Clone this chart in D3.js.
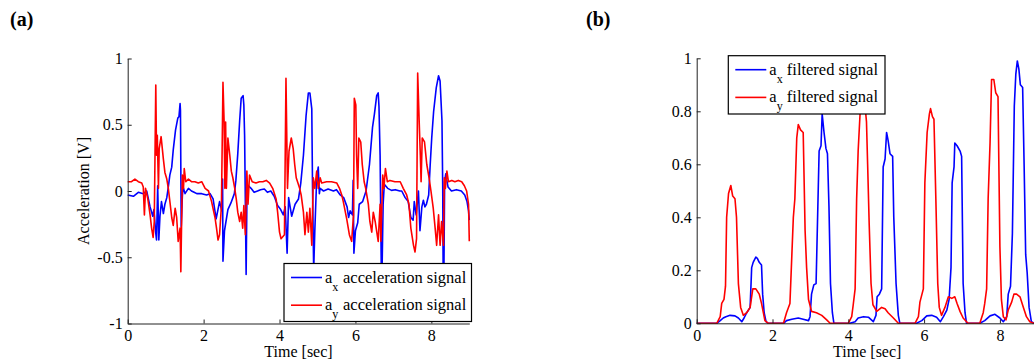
<!DOCTYPE html>
<html>
<head>
<meta charset="utf-8">
<script src="https://cdn.jsdelivr.net/npm/d3@7"></script>
<style>
  body { margin: 0; background: #fff; }
  svg { display: block; font-family: 'Liberation Serif', 'Times New Roman', serif; }
  svg text { font-family: 'Liberation Serif', 'Times New Roman', serif !important; }
</style>
</head>
<body>
<svg id="chart" width="1034" height="362"></svg>
<script>
// (a) raw acceleration signals, [time sec, volts]
const axRaw = [
  [0,-0.03],[0.15,-0.04],[0.28,-0.01],[0.41,-0.02],[0.5,0],[0.59,-0.12],[0.66,-0.19],[0.69,-0.14],
  [0.74,-0.32],[0.76,-0.37],[0.79,0.04],[0.82,-0.37],[0.85,-0.19],[0.89,-0.08],[0.94,-0.17],[0.98,-0.1],
  [1.03,-0.05],[1.07,0.03],[1.11,0.12],[1.16,0.18],[1.2,0.31],[1.26,0.46],[1.32,0.55],[1.35,0.56],
  [1.38,0.66],[1.39,0.61],[1.41,-0.27],[1.44,-0.04],[1.46,0.03],[1.51,-0.02],[1.6,0.02],[1.68,0],
  [1.75,-0.01],[1.82,-0.02],[1.95,-0.02],[2.08,-0.03],[2.17,-0.02],[2.25,-0.06],[2.33,-0.21],[2.42,-0.08],
  [2.48,-0.15],[2.5,0.09],[2.51,-0.53],[2.55,-0.3],[2.64,-0.14],[2.72,-0.09],[2.81,-0.02],[2.85,0.08],
  [2.9,0.28],[2.95,0.53],[2.99,0.7],[3.04,0.72],[3.06,0.65],[3.08,0.42],[3.1,-0.09],[3.12,-0.63],
  [3.14,-0.08],[3.18,0.04],[3.25,0.02],[3.33,-0.01],[3.42,0],[3.5,0.01],[3.6,0.015],[3.68,-0.01],
  [3.77,0],[3.86,-0.04],[3.95,-0.11],[4.03,-0.14],[4.1,-0.18],[4.15,-0.12],[4.2,-0.47],[4.24,-0.05],
  [4.32,-0.19],[4.41,-0.1],[4.5,-0.06],[4.56,0.06],[4.63,0.27],[4.7,0.57],[4.76,0.74],[4.8,0.74],
  [4.85,0.62],[4.87,0.02],[4.9,-0.6],[4.93,-0.3],[4.98,0.1],[5.02,0.18],[5.05,-0.02],[5.07,0.02],
  [5.16,0],[5.28,0.015],[5.42,0],[5.5,0.01],[5.6,-0.03],[5.69,-0.05],[5.78,-0.12],[5.82,-0.2],
  [5.86,-0.15],[5.92,-0.18],[5.94,0.08],[5.96,-0.47],[6.0,-0.3],[6.06,-0.24],[6.1,-0.1],[6.19,-0.08],
  [6.28,0],[6.37,0.2],[6.45,0.48],[6.5,0.58],[6.56,0.72],[6.6,0.74],[6.62,0.64],[6.65,0.27],
  [6.68,-0.55],[6.7,-0.62],[6.73,-0.1],[6.76,0.05],[6.85,0.02],[6.95,0.005],[7.05,0.01],[7.17,0],
  [7.22,0],[7.31,-0.05],[7.39,-0.08],[7.46,-0.2],[7.52,-0.22],[7.55,-0.08],[7.6,-0.18],[7.66,0],
  [7.7,-0.3],[7.75,-0.12],[7.79,-0.07],[7.83,-0.12],[7.87,-0.1],[7.93,-0.03],[7.97,0.2],[8.01,0.4],
  [8.06,0.6],[8.13,0.78],[8.19,0.87],[8.23,0.83],[8.28,0.53],[8.3,0.02],[8.31,-0.55],[8.33,-0.65],
  [8.35,0.07],[8.38,0.13],[8.44,0.03],[8.53,0],[8.66,0.01],[8.79,0],[8.88,-0.03],[8.94,-0.08],
  [8.98,-0.15],[9.0,-0.22]
];
const ayRaw = [
  [0,0.07],[0.1,0.07],[0.19,0.09],[0.28,0.07],[0.37,0.06],[0.41,0.03],[0.44,-0.18],[0.47,0.02],
  [0.53,-0.06],[0.59,-0.18],[0.63,-0.28],[0.67,-0.35],[0.7,-0.23],[0.74,0.8],[0.76,0.27],[0.78,0.42],
  [0.81,0.02],[0.83,0.32],[0.88,0.41],[0.94,0.24],[0.98,0.14],[1.03,0.09],[1.07,0.02],[1.12,-0.1],
  [1.16,-0.2],[1.2,-0.26],[1.25,-0.13],[1.29,-0.2],[1.33,-0.38],[1.38,-0.28],[1.4,-0.61],[1.44,0.12],
  [1.47,0.02],[1.49,0.17],[1.53,0.07],[1.6,0.09],[1.68,0.07],[1.77,0.07],[1.86,0.06],[1.95,0.07],
  [2.04,0.02],[2.13,0],[2.21,-0.08],[2.3,-0.2],[2.34,-0.28],[2.38,-0.37],[2.42,-0.33],[2.47,-0.11],
  [2.51,0.82],[2.54,0.52],[2.56,0.02],[2.58,0.52],[2.6,0.02],[2.64,0.4],[2.69,0.27],[2.73,0.15],
  [2.77,0.1],[2.82,0.02],[2.86,-0.06],[2.9,-0.16],[2.95,-0.23],[2.99,-0.16],[3.03,-0.28],[3.06,-0.11],
  [3.1,-0.33],[3.14,0.15],[3.17,-0.1],[3.21,0.12],[3.28,0.07],[3.38,0.06],[3.47,0.07],[3.56,0.07],
  [3.65,0.08],[3.74,0.06],[3.82,0.02],[3.91,-0.06],[3.95,-0.16],[4.0,-0.31],[4.04,-0.36],[4.13,-0.33],
  [4.17,0.85],[4.21,0.02],[4.25,0.3],[4.31,0.4],[4.36,0.32],[4.4,0.2],[4.44,0.1],[4.53,0.02],
  [4.57,-0.03],[4.63,-0.16],[4.67,-0.33],[4.72,-0.16],[4.76,-0.31],[4.8,-0.13],[4.85,-0.41],[4.89,0.1],
  [4.93,0.02],[4.98,0.15],[5.02,0.02],[5.07,0.1],[5.11,0.06],[5.24,0.07],[5.37,0.07],[5.51,0.06],
  [5.58,0.02],[5.64,-0.03],[5.68,-0.08],[5.77,-0.21],[5.84,-0.33],[5.9,-0.38],[5.95,-0.18],[5.97,0.7],
  [6.01,0.65],[6.03,0.27],[6.06,0.02],[6.09,0.4],[6.14,0.37],[6.18,0.2],[6.23,0.07],[6.27,0.02],
  [6.34,-0.1],[6.38,-0.23],[6.43,-0.31],[6.47,-0.16],[6.52,-0.23],[6.6,-0.38],[6.65,-0.1],[6.67,-0.38],
  [6.72,0.12],[6.75,0.02],[6.79,0.17],[6.84,0.07],[6.91,0.08],[7.04,0.07],[7.18,0.07],[7.26,0.02],
  [7.35,-0.03],[7.41,-0.1],[7.46,-0.28],[7.53,-0.41],[7.57,-0.46],[7.61,-0.36],[7.64,0.89],[7.68,0.52],
  [7.71,0.27],[7.73,0.07],[7.76,0.4],[7.82,0.37],[7.88,0.2],[7.94,0.1],[7.99,0],[8.05,-0.13],
  [8.1,-0.28],[8.14,-0.41],[8.19,-0.18],[8.23,-0.41],[8.27,-0.23],[8.32,-0.41],[8.34,0.1],[8.37,0.02],
  [8.41,0.15],[8.45,0.07],[8.54,0.08],[8.62,0.07],[8.71,0.08],[8.8,0.07],[8.87,0.04],[8.93,0],
  [8.98,-0.1],[9.0,-0.38]
];

// (b) filtered signals, [time sec, value]
const axFilt = [
  [0,0],[0.53,0],[0.62,0.01],[0.7,0.02],[0.77,0.025],[0.88,0.03],[1.01,0.028],[1.1,0.02],
  [1.19,0.006],[1.25,0.02],[1.32,0.04],[1.41,0.06],[1.45,0.21],[1.49,0.23],[1.56,0.25],[1.6,0.245],
  [1.65,0.23],[1.71,0.22],[1.74,0.11],[1.78,0.04],[1.83,0.006],[1.89,0],[2.29,0],[2.37,0.01],
  [2.51,0.015],[2.68,0.02],[2.81,0.015],[2.95,0.01],[2.99,0.025],[3.03,0.11],[3.09,0.145],[3.15,0.15],
  [3.19,0.4],[3.23,0.65],[3.28,0.67],[3.31,0.79],[3.36,0.72],[3.41,0.66],[3.45,0.64],[3.49,0.44],
  [3.53,0.15],[3.58,0.04],[3.62,0],[4.04,0],[4.18,0.006],[4.26,0.02],[4.4,0.025],[4.53,0.023],
  [4.66,0.006],[4.73,0.03],[4.76,0.1],[4.82,0.11],[4.88,0.13],[4.92,0.59],[4.97,0.62],[5.01,0.72],
  [5.05,0.69],[5.1,0.64],[5.17,0.63],[5.2,0.4],[5.26,0.15],[5.32,0.03],[5.36,0],[5.8,0],
  [5.94,0.01],[6.07,0.028],[6.2,0.03],[6.33,0.023],[6.43,0.006],[6.51,0.025],[6.6,0.05],[6.66,0.09],
  [6.71,0.21],[6.74,0.53],[6.79,0.59],[6.81,0.68],[6.87,0.67],[6.95,0.65],[6.99,0.63],[7.03,0.15],
  [7.08,0.04],[7.12,0],[7.47,0],[7.6,0.01],[7.74,0.028],[7.87,0.034],[8.0,0.02],[8.09,0.006],
  [8.18,0.025],[8.22,0.11],[8.28,0.14],[8.33,0.34],[8.38,0.82],[8.42,0.94],[8.46,0.99],[8.5,0.96],
  [8.54,0.9],[8.6,0.89],[8.64,0.59],[8.68,0.26],[8.72,0.19],[8.77,0.06],[8.83,0.006],[8.9,0],[9.0,0]
];
const ayFilt = [
  [0,0],[0.53,0],[0.62,0.025],[0.66,0.075],[0.72,0.09],[0.76,0.14],[0.79,0.4],[0.84,0.49],
  [0.9,0.52],[0.95,0.48],[1.01,0.47],[1.05,0.4],[1.1,0.15],[1.16,0.06],[1.23,0.03],[1.32,0.04],
  [1.41,0.06],[1.48,0.13],[1.56,0.13],[1.65,0.11],[1.71,0.075],[1.8,0.01],[1.89,0],[2.29,0],
  [2.37,0.04],[2.46,0.075],[2.55,0.4],[2.59,0.47],[2.64,0.7],[2.68,0.75],[2.74,0.73],[2.81,0.72],
  [2.86,0.35],[2.9,0.21],[2.95,0.09],[3.03,0.045],[3.16,0.04],[3.3,0.03],[3.43,0.013],[3.52,0],
  [4.0,0],[4.09,0.025],[4.13,0.07],[4.18,0.13],[4.22,0.47],[4.26,0.65],[4.31,0.79],[4.37,0.86],
  [4.43,0.84],[4.48,0.76],[4.51,0.6],[4.55,0.38],[4.6,0.15],[4.65,0.07],[4.75,0.045],[4.88,0.06],
  [4.97,0.055],[5.05,0.04],[5.19,0.02],[5.32,0],[5.76,0],[5.85,0.025],[5.89,0.08],[5.98,0.13],
  [6.02,0.53],[6.08,0.72],[6.14,0.79],[6.17,0.81],[6.22,0.78],[6.26,0.77],[6.31,0.47],[6.36,0.15],
  [6.4,0.06],[6.46,0.03],[6.55,0.06],[6.64,0.1],[6.73,0.094],[6.81,0.1],[6.87,0.075],[6.95,0.044],
  [7.03,0.02],[7.12,0.006],[7.16,0],[7.47,0],[7.56,0.04],[7.6,0.075],[7.65,0.13],[7.69,0.47],
  [7.74,0.68],[7.78,0.92],[7.84,0.92],[7.89,0.87],[7.95,0.855],[8.0,0.29],[8.04,0.09],[8.09,0.025],
  [8.16,0.013],[8.22,0.05],[8.31,0.08],[8.37,0.11],[8.44,0.11],[8.53,0.1],[8.62,0.06],[8.7,0.025],
  [8.79,0.006],[8.9,0],[9.0,0]
];

const xTicks = [0, 2, 4, 6, 8];
const yTicksA = [-1, -0.5, 0, 0.5, 1];
const yTicksB = [0, 0.2, 0.4, 0.6, 0.8, 1];

const svg = d3.select('#chart');

function styleAxis(sel) {
  sel.attr('font-family', null).attr('font-size', 16);
  sel.selectAll('text').attr('fill', '#000').attr('font-size', 16);
  sel.selectAll('path, line').attr('stroke', '#222');
}

function drawPanel(opts) {
  const { x, y, series, yTicks, yLabel, legend } = opts;
  const g = svg.append('g');

  const line = d3.line().x(d => x(d[0])).y(d => y(d[1]));
  series.forEach(s => {
    g.append('path')
      .datum(s.data)
      .attr('fill', 'none')
      .attr('stroke', s.color)
      .attr('stroke-width', 1.6)
      .attr('stroke-linejoin', 'round')
      .attr('d', line);
  });

  g.append('g')
    .attr('transform', `translate(0,${y.range()[0]})`)
    .call(d3.axisBottom(x).tickValues(xTicks).tickSizeInner(-4).tickSizeOuter(0).tickPadding(6).tickFormat(d => String(d)))
    .call(styleAxis);

  g.append('g')
    .attr('transform', `translate(${x.range()[0]},0)`)
    .call(d3.axisLeft(y).tickValues(yTicks).tickSizeInner(-4).tickSizeOuter(0).tickPadding(5).tickFormat(d => String(d)))
    .call(styleAxis);

  g.append('text')
    .attr('x', x(4.5))
    .attr('y', 357)
    .attr('text-anchor', 'middle')
    .attr('font-size', 16)
    .text('Time [sec]');

  if (yLabel) {
    g.append('text')
      .attr('transform', `translate(89,${y(0)}) rotate(-90)`)
      .attr('text-anchor', 'middle')
      .attr('font-size', 16)
      .text(yLabel);
  }

  // legend box
  const lg = g.append('g');
  lg.append('rect')
    .attr('x', legend.x).attr('y', legend.y)
    .attr('width', legend.w).attr('height', legend.h)
    .attr('fill', '#fff').attr('stroke', '#000').attr('stroke-width', 1.2);
  series.forEach((s, i) => {
    const ly = legend.y + 14 + i * 27.7;
    lg.append('line')
      .attr('x1', legend.x + 7).attr('x2', legend.x + 38)
      .attr('y1', ly).attr('y2', ly)
      .attr('stroke', s.color).attr('stroke-width', 1.6);
    const t = lg.append('text').attr('y', ly + 5).attr('font-size', 16.5);
    t.append('tspan').attr('x', legend.x + 41).text('a');
    t.append('tspan').attr('font-size', 12).attr('dy', 8).text(s.sub);
    t.append('tspan').attr('x', legend.x + legend.tx).attr('dy', -8).text(s.label);
  });
}

drawPanel({
  x: d3.scaleLinear().domain([0, 9]).range([127.7, 469.3]),
  y: d3.scaleLinear().domain([-1, 1]).range([323.5, 58.5]),
  series: [
    { data: axRaw, color: '#0000ff', sub: 'x', label: 'acceleration signal' },
    { data: ayRaw, color: '#ff0000', sub: 'y', label: 'acceleration signal' }
  ],
  yTicks: yTicksA,
  yLabel: 'Acceleration [V]',
  legend: { x: 284, y: 263.5, w: 187.5, h: 58, tx: 59 }
});

drawPanel({
  x: d3.scaleLinear().domain([0, 9]).range([696.7, 1037.8]),
  y: d3.scaleLinear().domain([0, 1]).range([323.3, 58.3]),
  series: [
    { data: axFilt, color: '#0000ff', sub: 'x', label: 'filtered signal' },
    { data: ayFilt, color: '#ff0000', sub: 'y', label: 'filtered signal' }
  ],
  yTicks: yTicksB,
  yLabel: null,
  legend: { x: 728.3, y: 55.7, w: 156.7, h: 58.3, tx: 58.5 }
});

svg.append('text').attr('x', 10).attr('y', 26)
  .attr('font-size', 20).attr('font-weight', 'bold').text('(a)');
svg.append('text').attr('x', 586).attr('y', 26)
  .attr('font-size', 20).attr('font-weight', 'bold').text('(b)');
</script>
</body>
</html>
